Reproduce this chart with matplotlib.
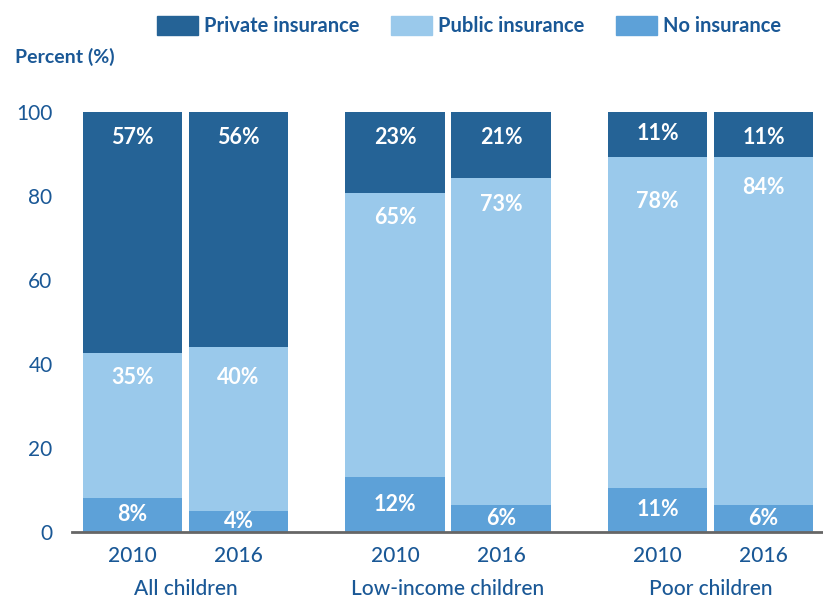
import matplotlib.pyplot as plt
from matplotlib.patches import Patch
from matplotlib.transforms import blended_transform_factory

plt.rcParams['font.family'] = ['Lato', 'DejaVu Sans']

groups = ['All children', 'Low-income children', 'Poor children']
years = ['2010', '2016']

# bar heights (bottom to top)
no_ins = [8.2, 5.0, 13.1, 6.4, 10.5, 6.4]
public = [34.4, 39.0, 67.6, 77.9, 78.8, 82.9]
private = [57.4, 56.0, 19.3, 15.7, 10.7, 10.7]

# printed labels
no_ins_lbl = ['8%', '4%', '12%', '6%', '11%', '6%']
public_lbl = ['35%', '40%', '65%', '73%', '78%', '84%']
private_lbl = ['57%', '56%', '23%', '21%', '11%', '11%']

# how far below the segment top each label sits (layout only)
pub_drop = [5.7, 7.1, 5.9, 6.3, 10.5, 7.3]
priv_drop = [6.0, 6.0, 6.0, 6.0, 5.0, 6.0]

c_priv = '#256396'
c_pub = '#9ac9eb'
c_no = '#5da1d8'
c_text = '#1a5896'

fig = plt.figure(figsize=(8.23, 6.02), dpi=100)
ax = fig.add_axes([72 / 823, 1 - 532 / 602, 1 - 72 / 823, 420 / 602])

xs = []
for g in range(3):
    for y in range(2):
        xs.append(g * 2.65 + y * 1.07)

bot2 = [a + b for a, b in zip(no_ins, public)]
ax.bar(xs, no_ins, width=1.0, color=c_no)
ax.bar(xs, public, width=1.0, bottom=no_ins, color=c_pub)
ax.bar(xs, private, width=1.0, bottom=bot2, color=c_priv)

lab = dict(color='white', fontsize=15.5, fontweight='bold', ha='center', va='center')
for i, x in enumerate(xs):
    ax.text(x, no_ins[i] / 2, no_ins_lbl[i], **lab)
    ax.text(x, bot2[i] - pub_drop[i], public_lbl[i], **lab)
    ax.text(x, 100 - priv_drop[i], private_lbl[i], **lab)

ax.set_xlim(-0.61, 5.3 + 1.07 + 0.6)
ax.set_ylim(0, 100)
ax.set_yticks([0, 20, 40, 60, 80, 100])
ax.tick_params(axis='y', length=0, pad=14, labelsize=15, labelcolor=c_text)
ax.set_xticks(xs)
ax.set_xticklabels(years * 3)
ax.tick_params(axis='x', length=0, pad=10, labelsize=15, labelcolor=c_text)
for lbl in ax.get_xticklabels():
    lbl.set_fontweight('medium')

for s in ['top', 'right', 'left']:
    ax.spines[s].set_visible(False)
ax.spines['bottom'].set_color('#666666')
ax.spines['bottom'].set_linewidth(2)

tr = blended_transform_factory(ax.transData, ax.transAxes)
for g, name in enumerate(groups):
    ax.text(g * 2.65 + 0.535, -0.136, name, transform=tr, ha='center', va='center',
            fontsize=15, color=c_text, fontweight='medium')

fig.text(15 / 823, 1 - 57 / 602, 'Percent (%)', fontsize=14, fontweight='bold',
         color=c_text, va='center', ha='left')

handles = [Patch(color=c_priv), Patch(color=c_pub), Patch(color=c_no)]
fig.legend(handles, ['Private insurance', 'Public insurance', 'No insurance'],
           loc='center', bbox_to_anchor=(0.570, 1 - 26 / 602), ncol=3, frameon=False,
           labelcolor=c_text, handlelength=2.0, handleheight=1.05,
           handletextpad=0.3, columnspacing=1.6, prop={'weight': 'bold', 'size': 14.5})

fig.savefig('out.png', dpi=100)
